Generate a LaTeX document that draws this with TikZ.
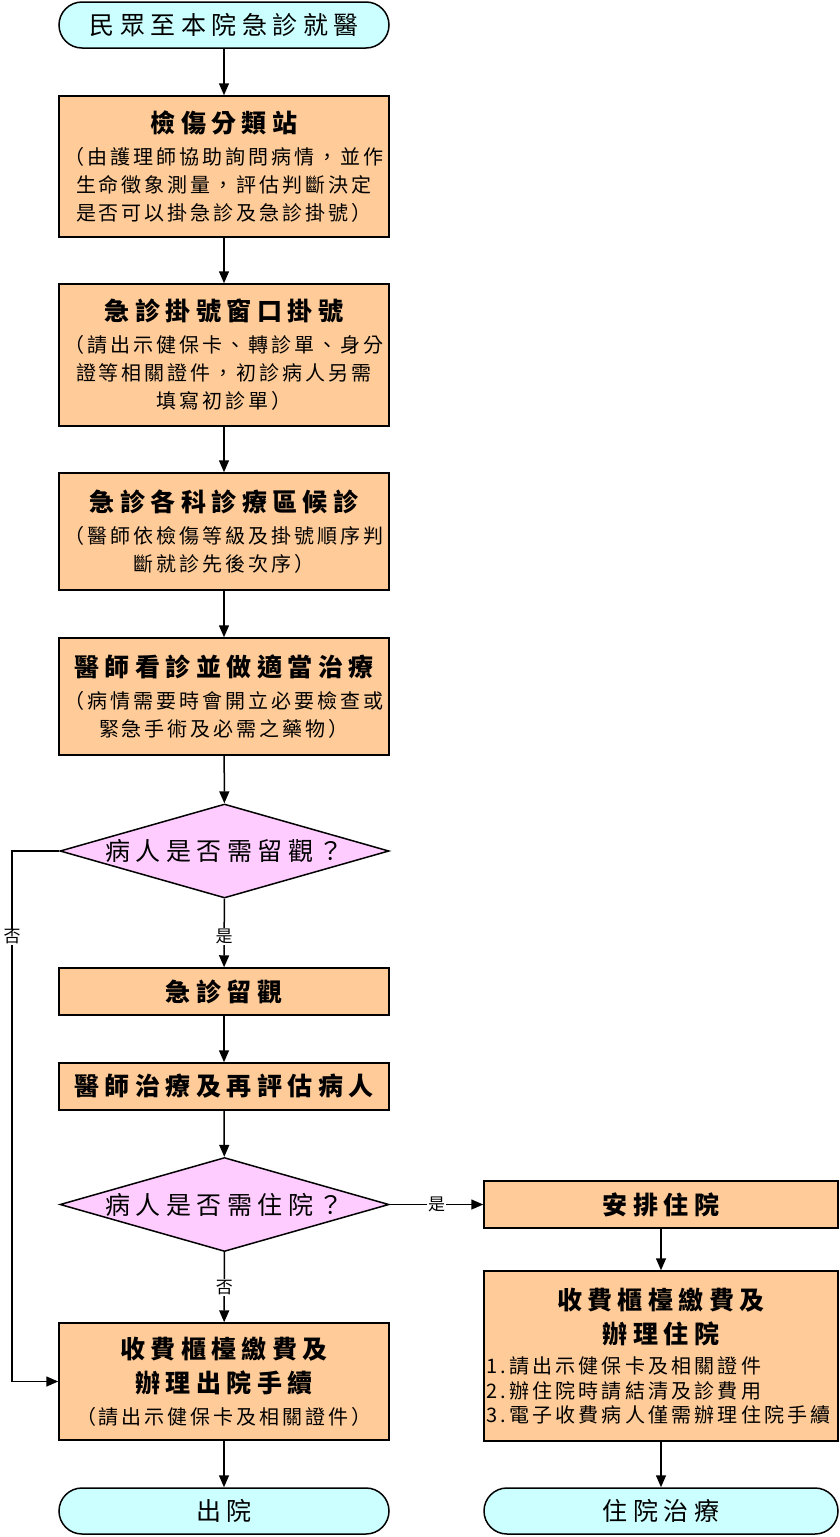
\documentclass[tikz,border=0pt]{standalone}
\usepackage{fontspec}
\setmainfont{Noto Sans CJK TC}
\newfontfamily\cjktitle[LetterSpace=22]{Noto Sans CJK TC}
\newfontfamily\cjknote[LetterSpace=15]{Noto Sans CJK TC}
\newfontfamily\cjklist[LetterSpace=16]{Noto Sans CJK TC}
\usetikzlibrary{shapes.geometric,arrows.meta}
\definecolor{boxorange}{RGB}{255,204,153}
\definecolor{termcyan}{RGB}{204,255,255}
\definecolor{decpink}{RGB}{255,204,255}
\newcommand{\boxtitle}{\cjktitle\bfseries\fontsize{25}{34}\selectfont}
\newcommand{\boxnote}{\cjknote\fontsize{20}{28}\selectfont}
\newcommand{\listnote}{\cjklist\fontsize{20}{24.5}\selectfont}

\begin{document}
\begin{tikzpicture}[x=1pt,y=-1pt,
    flowbox/.style={draw, fill=boxorange, line width=1.5pt, minimum width=330pt,
        text width=324pt, align=center, inner sep=2pt, font=\boxnote},
    term/.style={draw, fill=termcyan, line width=1.5pt, rounded corners=23pt,
        minimum width=330pt, minimum height=46pt, font=\cjktitle\fontsize{25}{28}\selectfont},
    decision/.style={diamond, draw, fill=decpink, line width=1.5pt, aspect=3.5,
        minimum width=329pt, minimum height=94pt, inner sep=0pt,
        font=\cjktitle\fontsize{25}{28}\selectfont},
    yn/.style={fill=white, inner sep=1pt, font=\fontsize{17}{17}\selectfont},
    flow/.style={line width=1.5pt, -{Triangle[length=12pt,width=10pt]}}]
    \useasboundingbox (0,0) rectangle (839,1537);

    % main column
    \node[term] (start) at (224,25) {民眾至本院急診就醫};
    \node[flowbox, minimum height=141pt] (triage) at (224,166.5)
        {{\boxtitle 檢傷分類站}\\[4pt]（由護理師協助詢問病情，並作\\生命徵象測量，評估判斷決定\\是否可以掛急診及急診掛號）};
    \node[flowbox, minimum height=142pt] (regist) at (224,355)
        {{\boxtitle 急診掛號窗口掛號}\\[4pt]（請出示健保卡、轉診單、身分\\證等相關證件，初診病人另需\\填寫初診單）};
    \node[flowbox, minimum height=117pt] (waiting) at (224,531.5)
        {{\boxtitle 急診各科診療區候診}\\[4pt]（醫師依檢傷等級及掛號順序判\\斷就診先後次序）};
    \node[flowbox, minimum height=117pt] (treat) at (224,696.5)
        {{\boxtitle 醫師看診並做適當治療}\\[4pt]（病情需要時會開立必要檢查或\\緊急手術及必需之藥物）};
    \node[decision] (observe) at (224.5,851) {病人是否需留觀？};
    \node[flowbox, minimum height=47pt] (obsroom) at (224,991.5) {\boxtitle 急診留觀};
    \node[flowbox, minimum height=47pt] (reeval) at (224,1086.5) {\boxtitle 醫師治療及再評估病人};
    \node[decision] (hospital) at (224.5,1204.5) {病人是否需住院？};
    \node[flowbox, minimum height=117pt] (paydis) at (224,1381.5)
        {{\boxtitle 收費櫃檯繳費及}\\[6pt]{\boxtitle 辦理出院手續}\\[4pt]（請出示健保卡及相關證件）};
    \node[term] (leave) at (224,1511) {出院};

    % admission column
    \node[flowbox, minimum width=354pt, text width=348pt, minimum height=47pt]
        (arrange) at (661,1204.5) {\boxtitle 安排住院};
    \node[flowbox, minimum width=354pt, text width=350pt, minimum height=170pt,
        align=left, inner sep=1pt, font=\listnote] (payadm) at (661,1356)
        {{\centering\boxtitle 收費櫃檯繳費及\\辦理住院\par}\vspace{6pt}
         1.請出示健保卡及相關證件\\2.辦住院時請結清及診費用\\3.電子收費病人僅需辦理住院手續};
    \node[term, minimum width=354pt] (inpatient) at (661,1511) {住院治療};

    \coordinate (nocorner) at (12,851);

    % connectors
    \draw[flow] (start) -- (triage);
    \draw[flow] (triage) -- (regist);
    \draw[flow] (regist) -- (waiting);
    \draw[flow] (waiting) -- (treat);
    \draw[flow] (treat) -- (observe);
    \draw[flow] (observe) -- node[yn, pos=0.55] {是} (obsroom);
    \draw[flow] (obsroom) -- (reeval);
    \draw[flow] (reeval) -- (hospital);
    \draw[flow] (hospital) -- node[yn] {否} (paydis);
    \draw[flow] (hospital) -- node[yn] {是} (arrange);
    \draw[flow] (arrange) -- (payadm);
    \draw[flow] (paydis) -- (leave);
    \draw[flow] (payadm) -- (inpatient);
    \draw[flow] (observe.west) -- (nocorner) -- node[yn, pos=0.162] {否} (nocorner |- paydis.west) -- (paydis.west);
\end{tikzpicture}
\end{document}
